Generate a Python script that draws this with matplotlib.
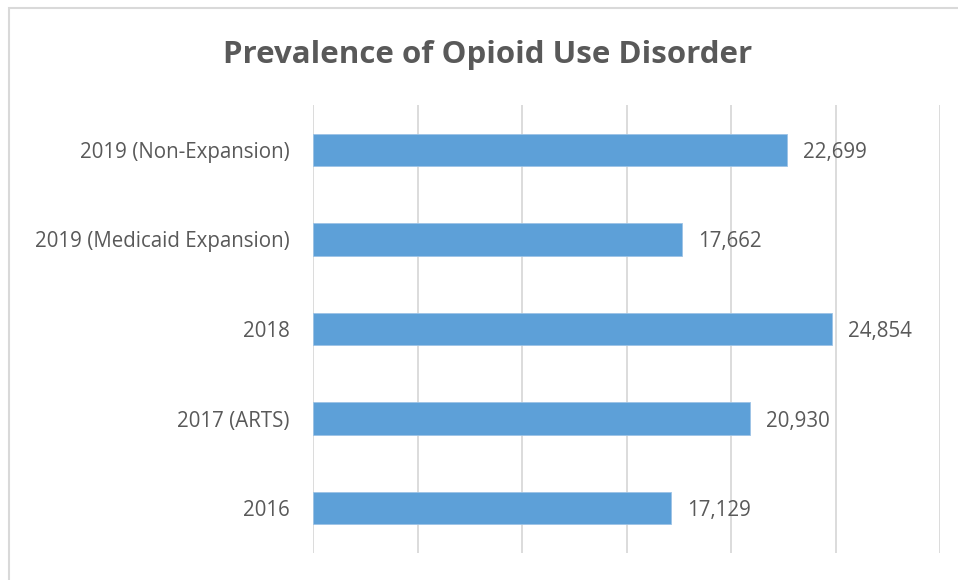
import matplotlib
matplotlib.use("Agg")
import matplotlib.pyplot as plt
from matplotlib.patches import Rectangle

categories = ["2016", "2017 (ARTS)", "2018", "2019 (Medicaid Expansion)", "2019 (Non-Expansion)"]
values = [17129, 20930, 24854, 17662, 22699]
title = "Prevalence of Opioid Use Disorder"

text_color = "#595959"
bar_color = "#5DA0D8"
grid_color = "#D9D9D9"
font = "Open Sans"

fig = plt.figure(figsize=(9.58, 5.8), dpi=100)
fig.patch.set_facecolor("white")

# outer chart frame
fig.patches.append(Rectangle((9 / 958, -0.05), 1.1, 1 - 8 / 580 + 0.05,
                             transform=fig.transFigure, fill=False,
                             edgecolor="#D9D9D9", linewidth=1.5))

ax = fig.add_axes([313 / 958, 1 - 553 / 580, (940 - 313) / 958, (553 - 105) / 580])
y = list(range(len(categories)))
ax.barh(y, values, height=0.36, color=bar_color, edgecolor="#9DC3E6", linewidth=0.6, zorder=3)

ax.set_xlim(0, 30000)
ax.set_ylim(-0.5, len(categories) - 0.5)
ax.set_xticks(range(0, 30001, 5000))
ax.set_xticklabels([])
ax.tick_params(axis="x", length=0)
ax.grid(axis="x", color=grid_color, linewidth=1.3, zorder=0)

ax.set_yticks(y)
ax.set_yticklabels(categories, fontsize=14.8, color=text_color, family=font)
ax.tick_params(axis="y", length=0, pad=17)
for lbl in ax.get_yticklabels():
    lbl.set_verticalalignment("center_baseline")

for s in ax.spines.values():
    s.set_visible(False)

for yi, v in zip(y, values):
    ax.text(v + 750, yi, f"{v:,}", va="center_baseline", ha="left",
            fontsize=14.8, color=text_color, family=font, zorder=4)

fig.text(488 / 958, 1 - 55 / 580, title, ha="center", va="center",
         fontsize=22.5, fontweight="bold", color=text_color, family=font)

fig.savefig("out.png", dpi=100)
